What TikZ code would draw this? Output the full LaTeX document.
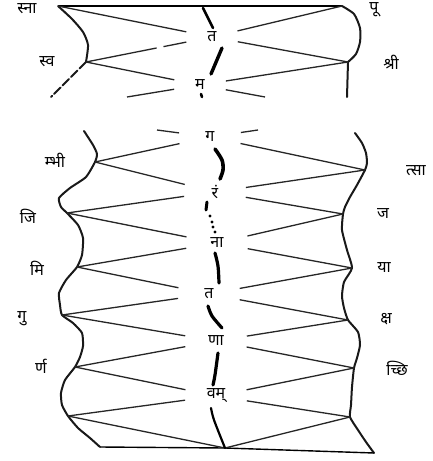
\documentclass[tikz,border=0pt]{standalone}
\usepackage{fontspec}
\usepackage{graphicx}
\newfontfamily\deva[Script=Devanagari]{Noto Sans}
\newcommand{\dv}[1]{\scalebox{1.6}{\deva #1}}
\usetikzlibrary{shapes.geometric}
\begin{document}
\begin{tikzpicture}[x=1pt,y=-1pt,
  border/.style={line width=2pt,line cap=round,line join=round,black!90},
  spoke/.style={line width=1.3pt,black!85},
  spine/.style={line width=3.2pt,line cap=round,black},
  lbl/.style={inner sep=0pt},
  ctr/.style={lbl,circle,minimum size=62pt},
  ctrtop/.style={lbl,circle,minimum size=52pt}]
\useasboundingbox[fill=white] (0,0) rectangle (433,461);

% ---------------- top section ----------------
\coordinate (TL) at (58,6);
\coordinate (TR) at (342,6);
\coordinate (SL) at (86,62);
\coordinate (SR) at (348,62);
\coordinate (cutBL) at (51,97);
\coordinate (cutBR) at (347,97);
\coordinate (cutSL) at (127,97);
\coordinate (cutSR) at (265,97);
\node[ctrtop] (t1) at (212,37) {\dv{त}};
\node[ctrtop] (m1) at (200,85) {\dv{म}};

\node[lbl] (lsna) at (27,9) {\dv{स्ना}};
\node[lbl] (lpu) at (374,10) {\dv{पू}};
\node[lbl] (lsva) at (47,62) {\dv{स्व}};
\node[lbl] (lshri) at (391,62) {\dv{श्री}};

\draw[line width=1.4pt] (TL) -- (TR);
\draw[border] plot[smooth,tension=0.4] coordinates {(TL) (72,19) (83,32) (88,45) (SL)};
\draw[border,dash pattern=on 9pt off 3pt] (SL) -- (cutBL);
\draw[border] plot[smooth,tension=0.4] coordinates {(TR) (354,14) (360,28) (360,42) (356,54) (SR)};
\draw[border] (SR) -- (cutBR);

\draw[spoke] (TL) -- (t1);
\draw[spoke] (TR) -- (t1);
\draw[spoke,dash pattern=on 72pt off 7pt on 40pt] (SL) -- (t1);
\draw[spoke] (SR) -- (t1);
\draw[spoke] (SL) -- (m1);
\draw[spoke] (SR) -- (m1);
\draw[spoke] (cutSL) -- (m1);
\draw[spoke] (cutSR) -- (m1);

\draw[spine,line width=2.6pt] (203,8) -- (213,28);
\draw[spine,line width=3.4pt] (222,48) -- (211,74);
\draw[spine,line width=2.6pt] (201,94) -- (202,97);

% ---------------- lower section ----------------
\coordinate (L1) at (95,162);
\coordinate (L2) at (67,213);
\coordinate (L3) at (77,267);
\coordinate (L4) at (62,315);
\coordinate (L5) at (75,367);
\coordinate (L6) at (68,416);
\coordinate (R1) at (365,170);
\coordinate (R2) at (343,214);
\coordinate (R3) at (352,268);
\coordinate (R4) at (348,320);
\coordinate (R5) at (354,368);
\coordinate (R6) at (350,417);
\coordinate (BL) at (100,447);
\coordinate (C6) at (225,448);
\coordinate (BR) at (374,453);
\coordinate (topL) at (157,130);
\coordinate (topR) at (258,130);

\node[ctr] (c0) at (210,137) {\dv{ग}};
\node[ctr] (c1) at (215,192) {\dv{रं}};
\node[ctr] (c2) at (217,243) {\dv{ना}};
\node[ctr] (c3) at (209,294) {\dv{त}};
\node[ctr] (c4) at (216,341) {\dv{णा}};
\node[ctr] (c5) at (216,396) {\dv{वम्}};

\node[lbl] (lmbhi) at (55,160) {\dv{म्भी}};
\node[lbl] (lji) at (28,216) {\dv{जि}};
\node[lbl] (lmi) at (37,268) {\dv{मि}};
\node[lbl] (lgu) at (22,319) {\dv{गु}};
\node[lbl] (lrna) at (41,366) {\dv{र्ण}};
\node[lbl] (ltsa) at (416,171) {\dv{त्सा}};
\node[lbl] (lja) at (383,214) {\dv{ज}};
\node[lbl] (lya) at (384,268) {\dv{या}};
\node[lbl] (lksha) at (386,319) {\dv{क्ष}};
\node[lbl] (lcchi) at (397,368) {\dv{च्छि}};

% borders
\draw[border] plot[smooth,tension=0.35] coordinates {(84,131) (93,145) (97,154) (L1) (86,177) (70,188) (59,198) (61,207) (L2) (78,225) (83,238) (82,255) (L3) (66,280) (59,293) (60,305) (L4) (73,323) (82,333) (83,346) (80,357) (L5) (65,380) (61,393) (62,405) (L6) (78,428) (90,438) (BL)};
\draw[border] plot[smooth,tension=0.35] coordinates {(355,133) (362,143) (366,153) (367,163) (R1) (357,185) (350,197) (345,207) (R2) (342,230) (347,250) (R3) (344,282) (342,296) (344,308) (R4) (358,332) (360,345) (357,358) (R5) (352,387) (351,405) (R6) (358,430) (366,442) (BR)};
\draw[line width=1.4pt,line join=round] (BL) -- (C6) -- (BR);

% spokes
\draw[spoke] (topL) -- (c0);
\draw[spoke] (topR) -- (c0);
\foreach \i/\a/\b in {1/0/1,2/1/2,3/2/3,4/3/4,5/4/5}{
  \draw[spoke] (L\i) -- (c\a);
  \draw[spoke] (L\i) -- (c\b);
  \draw[spoke] (R\i) -- (c\a);
  \draw[spoke] (R\i) -- (c\b);
}
\draw[spoke] (L6) -- (c5);
\draw[spoke] (R6) -- (c5);
\draw[spoke] (L6) -- (C6);
\draw[spoke] (R6) -- (C6);

% central spine
\draw[spine,line width=3.6pt] plot[smooth] coordinates {(215,149) (222,160) (223,170) (220,179)};
\draw[spine,line width=3pt] (207,202) -- (206,210);
\fill (210,216) circle (1.6pt);
\fill (212,222) circle (1.6pt);
\fill (213,227) circle (1.6pt);
\fill (215,232) circle (1.6pt);
\draw[spine] plot[smooth] coordinates {(215,253) (218,266) (219,283)};
\draw[spine] plot[smooth] coordinates {(208,306) (212,316) (222,328)};
\draw[spine] plot[smooth] coordinates {(218,353) (215,375) (213,385)};
\draw[spine,line width=2.2pt] plot[smooth] coordinates {(211,408) (214,420) (C6)};
\end{tikzpicture}
\end{document}
